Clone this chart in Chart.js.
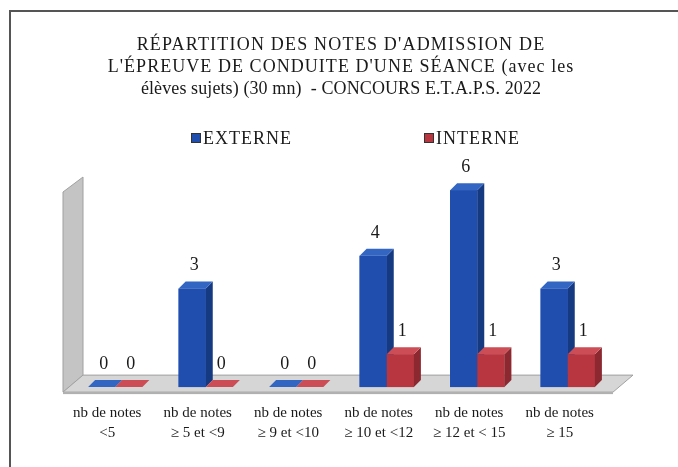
<!DOCTYPE html>
<html><head><meta charset="utf-8">
<script src="https://cdn.jsdelivr.net/npm/chart.js@4/dist/chart.umd.min.js"></script>
<style>html,body{margin:0;padding:0;background:#fff;overflow:hidden}canvas{display:block}</style>
</head><body>
<canvas id="c" width="678" height="467"></canvas>
<script>
// ---- data ----
const titleLines = [
  "RÉPARTITION DES NOTES D'ADMISSION DE",
  "L'ÉPREUVE DE CONDUITE D'UNE SÉANCE (avec les",
  "élèves sujets) (30 mn)  - CONCOURS E.T.A.P.S. 2022"
];
const categories = [
  ["nb de notes", "<5"],
  ["nb de notes", "≥ 5 et <9"],
  ["nb de notes", "≥ 9 et <10"],
  ["nb de notes", "≥ 10 et <12"],
  ["nb de notes", "≥ 12 et < 15"],
  ["nb de notes", "≥ 15"]
];
const seriesNames = ["EXTERNE", "INTERNE"];
const externe = [0, 3, 0, 4, 6, 3];
const interne = [0, 0, 0, 1, 1, 1];

// ---- styles ----
const FONT = "'Liberation Serif', 'DejaVu Serif', serif";
const titleSpacing = ['1.2px', '1.05px', '0.1px'];
const faceColors = [
  {front: '#1f4eae', side: '#163a82', top: '#3366c2'},
  {front: '#b8363f', side: '#8c2830', top: '#cc4d55'}
];
const DX = 7, DY = 7;

function poly(ctx, pts) {
  ctx.beginPath();
  ctx.moveTo(pts[0][0], pts[0][1]);
  for (let i = 1; i < pts.length; i++) ctx.lineTo(pts[i][0], pts[i][1]);
  ctx.closePath();
  ctx.fill();
}

const frame = {
  id: 'frame',
  beforeDraw(chart) {
    const ctx = chart.ctx;
    ctx.save();
    ctx.strokeStyle = '#555';
    ctx.lineWidth = 2;
    ctx.beginPath();
    ctx.moveTo(10, chart.height);
    ctx.lineTo(10, 11);
    ctx.lineTo(chart.width, 11);
    ctx.stroke();
    ctx.restore();
  }
};

const titlePlugin = {
  id: 'titleCustom',
  afterDraw(chart) {
    const ctx = chart.ctx;
    ctx.save();
    ctx.font = '18px ' + FONT;
    ctx.fillStyle = '#1a1a1a';
    ctx.textAlign = 'center';
    ctx.textBaseline = 'middle';
    titleLines.forEach((t, i) => {
      ctx.letterSpacing = titleSpacing[i];
      ctx.fillText(t, 341, 45 + i * 22);
    });
    ctx.restore();
  }
};

const threeD = {
  id: 'threeD',
  beforeDatasetsDraw(chart) {
    const {ctx, chartArea: a, scales: {y}} = chart;
    const yb = y.getPixelForValue(0);
    ctx.save();
    ctx.fillStyle = '#c4c4c4';
    ctx.strokeStyle = '#a0a0a0';
    ctx.lineWidth = 1;
    ctx.beginPath();
    ctx.moveTo(a.left - 7, a.top + 15);
    ctx.lineTo(a.left + 13, a.top);
    ctx.lineTo(a.left + 13, yb - 12);
    ctx.lineTo(a.left - 7, yb + 5);
    ctx.closePath();
    ctx.fill(); ctx.stroke();
    ctx.fillStyle = '#d6d6d6';
    ctx.beginPath();
    ctx.moveTo(a.left + 13, yb - 12);
    ctx.lineTo(a.right + 20, yb - 12);
    ctx.lineTo(a.right, yb + 5);
    ctx.lineTo(a.left - 7, yb + 5);
    ctx.closePath();
    ctx.fill(); ctx.stroke();
    ctx.fillStyle = '#b0b0b0';
    ctx.fillRect(a.left - 7, yb + 5, a.right - a.left + 7, 2);
    ctx.restore();
  },
  afterDatasetsDraw(chart) {
    const ctx = chart.ctx;
    const metas = chart.data.datasets.map((d, i) => chart.getDatasetMeta(i));
    const n = chart.data.labels.length;
    ctx.save();
    const labels = [];
    for (let j = 0; j < n; j++) {
      metas.forEach((m, i) => {
        const p = m.data[j].getProps(['x', 'y', 'base', 'width'], true);
        const l = p.x - p.width / 2, r = p.x + p.width / 2;
        const top = Math.min(p.y, p.base), bot = p.base;
        const c = faceColors[i];
        ctx.fillStyle = c.front;
        ctx.fillRect(l, top, r - l, bot - top);
        ctx.fillStyle = c.side;
        poly(ctx, [[r, top], [r + DX, top - DY], [r + DX, bot - DY], [r, bot]]);
        ctx.fillStyle = c.top;
        poly(ctx, [[l, top], [l + DX, top - DY], [r + DX, top - DY], [r, top]]);
        labels.push({x: p.x + 2, y: top - 23, v: chart.data.datasets[i].data[j]});
      });
    }
    ctx.fillStyle = '#1a1a1a';
    ctx.font = '18px ' + FONT;
    ctx.textAlign = 'center';
    ctx.textBaseline = 'middle';
    labels.forEach(t => ctx.fillText(String(t.v), t.x, t.y));
    ctx.restore();
  }
};

const legendPlugin = {
  id: 'legendCustom',
  afterDraw(chart) {
    const ctx = chart.ctx;
    const pos = [191, 424];
    ctx.save();
    ctx.font = '18px ' + FONT;
    ctx.letterSpacing = '1px';
    ctx.textBaseline = 'middle';
    ctx.textAlign = 'left';
    chart.data.datasets.forEach((d, i) => {
      const x = pos[i], y = 138;
      ctx.fillStyle = faceColors[i].front;
      ctx.fillRect(x, y - 5, 10, 10);
      ctx.strokeStyle = '#333';
      ctx.lineWidth = 1;
      ctx.strokeRect(x + 0.5, y - 4.5, 9, 9);
      ctx.fillStyle = '#1a1a1a';
      ctx.fillText(d.label, x + 12, y + 1);
    });
    ctx.restore();
  }
};

new Chart(document.getElementById('c'), {
  type: 'bar',
  data: {
    labels: categories,
    datasets: [
      {label: seriesNames[0], data: externe, backgroundColor: faceColors[0].front},
      {label: seriesNames[1], data: interne, backgroundColor: faceColors[1].front}
    ]
  },
  options: {
    responsive: false,
    animation: false,
    events: [],
    layout: {padding: {left: 70, right: 65, top: 177, bottom: 8}},
    categoryPercentage: 0.6,
    barPercentage: 1.0,
    plugins: {
      legend: {display: false},
      tooltip: {enabled: false},
      title: {display: false}
    },
    scales: {
      x: {
        grid: {display: false, drawTicks: false},
        border: {display: false},
        ticks: {
          color: '#1a1a1a',
          font: {family: FONT, size: 15, lineHeight: 1.33},
          padding: 16,
          labelOffset: -8,
          maxRotation: 0,
          autoSkip: false
        }
      },
      y: {display: false, min: 0, max: 6.4}
    }
  },
  plugins: [frame, threeD, titlePlugin, legendPlugin]
});
</script>
</body></html>
